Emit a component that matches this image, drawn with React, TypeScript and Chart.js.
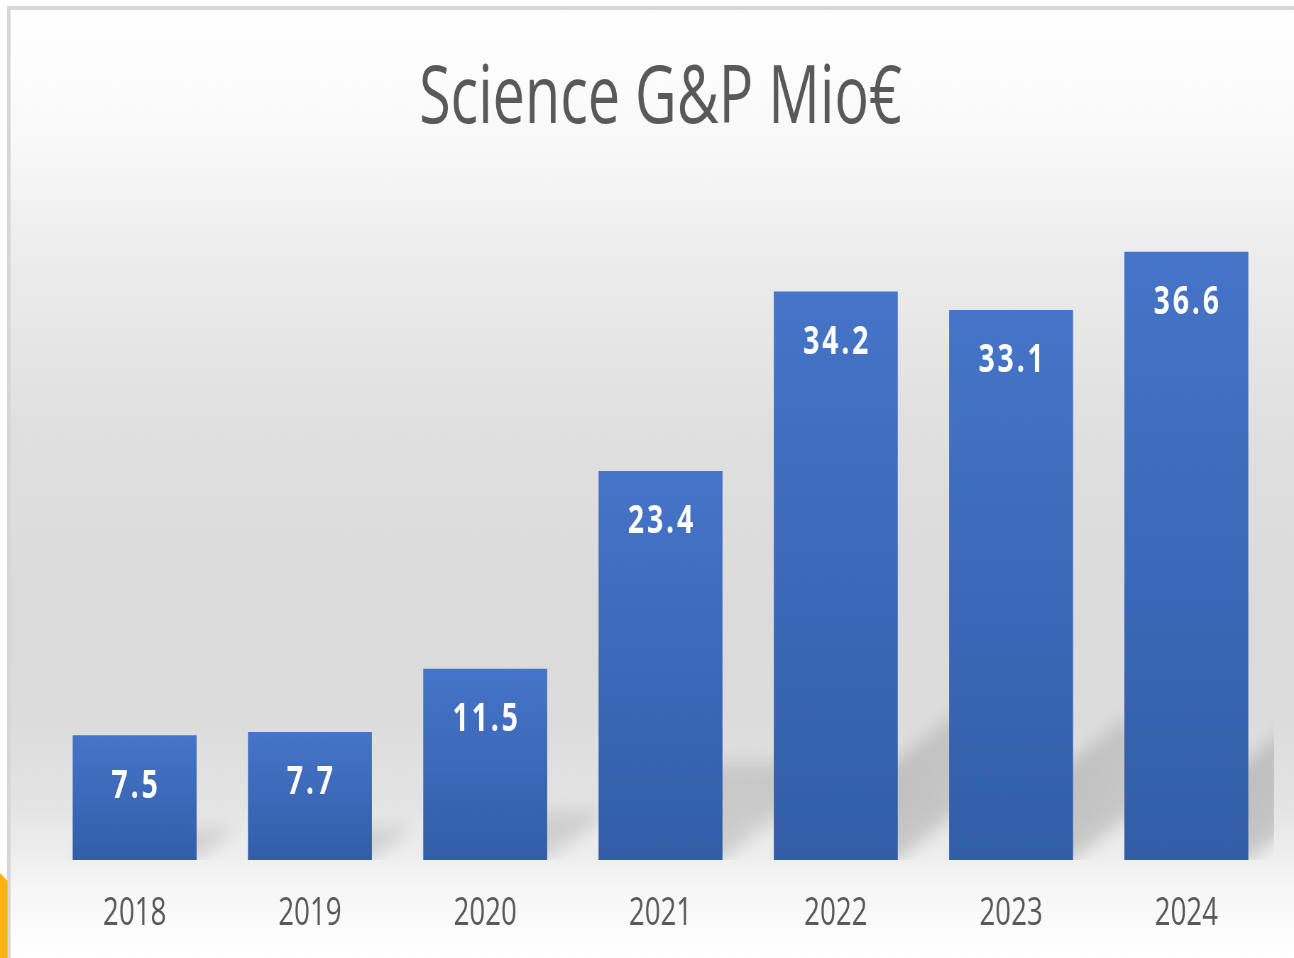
import React, { useEffect, useRef } from "react";
import { Chart, registerables } from "chart.js";

Chart.register(...registerables);

// ---- data ----
const years: string[] = ["2018", "2019", "2020", "2021", "2022", "2023", "2024"];
const values: number[] = [7.5, 7.7, 11.5, 23.4, 34.2, 33.1, 36.6];
const titleText = "Science G&P Mio€";
const yMin = 0;
const yMax = 40;

// ---- geometry (the canvas is drawn wide and squeezed horizontally to the view) ----
const VIEW_W = 1294;
const VIEW_H = 958;
const SQUISH = 0.71;
const LOGICAL_W = Math.round(VIEW_W / SQUISH);
const K = VIEW_W / LOGICAL_W;
const lx = (x: number) => x / K;

const FONT = "'Open Sans', 'Noto Sans', sans-serif";

const backgroundPlugin = {
  id: "bgFrame",
  beforeDraw(chart: any) {
    const ctx = chart.ctx as CanvasRenderingContext2D;
    const W = chart.width;
    const H = chart.height;
    ctx.save();
    ctx.fillStyle = "#ffffff";
    ctx.fillRect(0, 0, W, H);
    const g = ctx.createLinearGradient(0, 0, 0, H);
    const stops: [number, string][] = [
      [10, "#ffffff"],
      [140, "#f9f9f9"],
      [250, "#ededed"],
      [420, "#e0e0e0"],
      [600, "#dbdbdb"],
      [720, "#dcdcdc"],
      [800, "#e3e3e3"],
      [855, "#eeeeee"],
      [885, "#f6f6f6"],
      [958, "#ffffff"],
    ];
    stops.forEach(([y, c]) => g.addColorStop(y / H, c));
    ctx.fillStyle = g;
    ctx.fillRect(lx(10), 10, W - lx(10), H - 10);
    // frame
    ctx.fillStyle = "#d6d6d6";
    ctx.fillRect(lx(7), 6, lx(3.5), H - 6);
    ctx.fillRect(lx(7), 6, W - lx(7), 4);
    // orange corner mark
    ctx.fillStyle = "#f9b114";
    ctx.beginPath();
    ctx.moveTo(0, 873);
    ctx.lineTo(lx(7.5), 881);
    ctx.lineTo(lx(7.5), H);
    ctx.lineTo(0, H);
    ctx.closePath();
    ctx.fill();
    ctx.restore();
  },
};

const shadowPlugin = {
  id: "barShadows",
  beforeDatasetsDraw(chart: any) {
    const ctx = chart.ctx as CanvasRenderingContext2D;
    const area = chart.chartArea;
    const meta = chart.getDatasetMeta(0);
    ctx.save();
    ctx.beginPath();
    ctx.rect(area.left, area.top, area.right - area.left, area.bottom - area.top);
    ctx.clip();
    ctx.filter = "blur(9px)";
    meta.data.forEach((bar: any) => {
      const { x, y, base, width } = bar.getProps(["x", "y", "base", "width"], true);
      const h = base - y;
      const xl = x - width / 2;
      const xr = x + width / 2;
      const dx = h * lx(0.31);
      const dy = h * 0.25;
      const g = ctx.createLinearGradient(xl, base, xl + dx, base - dy);
      g.addColorStop(0, "rgba(0,0,0,0.21)");
      g.addColorStop(1, "rgba(0,0,0,0.11)");
      ctx.beginPath();
      ctx.moveTo(xl, base);
      ctx.lineTo(xr, base);
      ctx.lineTo(xr + dx, base - dy);
      ctx.lineTo(xl + dx, base - dy);
      ctx.closePath();
      ctx.fillStyle = g;
      ctx.fill();
    });
    ctx.restore();
  },
};

const valueLabelPlugin = {
  id: "valueLabels",
  afterDatasetsDraw(chart: any) {
    const ctx = chart.ctx as CanvasRenderingContext2D;
    const meta = chart.getDatasetMeta(0);
    ctx.save();
    ctx.font = `bold 40px ${FONT}`;
    ctx.fillStyle = "#ffffff";
    ctx.textAlign = "center";
    ctx.textBaseline = "middle";
    (ctx as any).letterSpacing = "4px";
    meta.data.forEach((bar: any, i: number) => {
      const { x, y } = bar.getProps(["x", "y"], true);
      ctx.fillText(values[i].toFixed(1), x + 2, y + 51);
    });
    ctx.restore();
  },
};

export default function App() {
  const canvasRef = useRef<HTMLCanvasElement | null>(null);

  useEffect(() => {
    const canvas = canvasRef.current;
    if (!canvas) return;
    const chart = new Chart(canvas, {
      type: "bar",
      data: {
        labels: years,
        datasets: [
          {
            label: titleText,
            data: values,
            categoryPercentage: 1,
            barPercentage: 0.707,
            borderWidth: 0,
            backgroundColor: (c: any) => {
              const ch = c.chart;
              if (!ch.chartArea || c.raw == null) return "#4472c4";
              const ys = ch.scales.y;
              const top = ys.getPixelForValue(c.raw as number);
              const bot = ys.getPixelForValue(0);
              const g = ch.ctx.createLinearGradient(0, top, 0, bot);
              g.addColorStop(0, "#4674c8");
              g.addColorStop(1, "#325ea8");
              return g;
            },
          },
        ],
      },
      options: {
        responsive: false,
        devicePixelRatio: 1,
        animation: false,
        events: [],
        layout: {
          padding: { left: lx(47), right: LOGICAL_W - lx(1274), top: 0, bottom: 0 },
        },
        plugins: {
          legend: { display: false },
          tooltip: { enabled: false },
          title: {
            display: true,
            text: titleText,
            color: "#595959",
            font: { family: FONT, size: 81, weight: "normal" as any },
            padding: { top: 51, bottom: 47 },
          },
        },
        scales: {
          x: {
            grid: { display: false, drawTicks: false },
            border: { display: false },
            ticks: {
              color: "#595959",
              font: { family: FONT, size: 39 },
              padding: 30,
              maxRotation: 0,
              autoSkip: false,
            },
            afterFit: (scale: any) => {
              scale.height = VIEW_H - 860;
            },
          },
          y: { display: false, min: yMin, max: yMax },
        },
      },
      plugins: [backgroundPlugin, shadowPlugin, valueLabelPlugin],
    });
    return () => chart.destroy();
  }, []);

  return (
    <div style={{ position: "fixed", left: 0, top: 0, width: VIEW_W, height: VIEW_H, overflow: "hidden" }}>
      <canvas
        ref={canvasRef}
        width={LOGICAL_W}
        height={VIEW_H}
        style={{ width: `${VIEW_W}px`, height: `${VIEW_H}px`, display: "block" }}
      />
    </div>
  );
}
